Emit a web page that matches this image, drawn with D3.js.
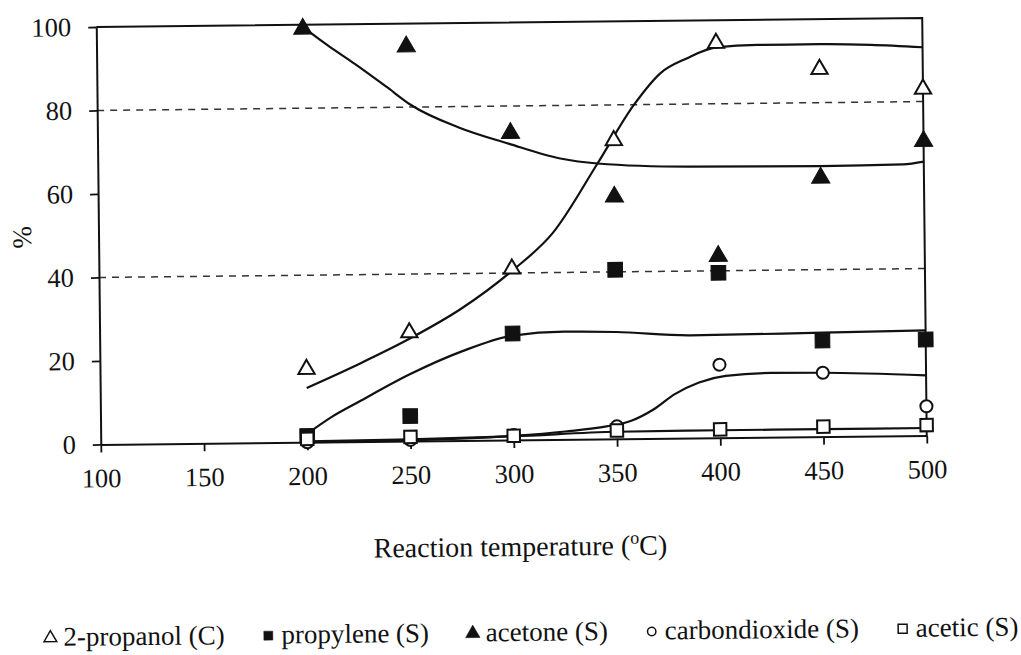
<!DOCTYPE html>
<html>
<head>
<meta charset="utf-8">
<script src="https://cdn.jsdelivr.net/npm/d3@7"></script>
<style>
  html, body { margin: 0; padding: 0; background: #ffffff; }
  svg { display: block; }
  text { font-family: "Liberation Serif", "Times New Roman", serif; fill: #111; }
</style>
</head>
<body>
<svg id="chart" width="1021" height="655"></svg>
<script>
// Reaction temperatures (°C) where samples were taken
const temps = [200, 250, 300, 350, 400, 450, 500];

// Measured values (%)
const propanol  = [17.5, 26, 41, 71.5, 94.5, 88, 83];     // 2-propanol conversion
const propylene = [1.5, 6, 25.5, 40.5, 39.5, 23, 23];     // propylene selectivity
const acetone   = [99, 94.5, 73.5, 58, 43.5, 62, 70.5];   // acetone selectivity
const co2       = [0, 0.3, 1.2, 3, 17.5, 15.3, 7];        // carbon dioxide selectivity
const acetic    = [0.8, 1, 1, 2, 2, 2.4, 2.5];            // acetic selectivity

// Smoothed trend curves, [temperature, %]
const propanolFit  = [[200,13],[225,18.5],[250,24.5],[275,31.5],[300,40.5],[320,49.5],[342,66],[360,80],[373,87.5],[386,91],[400,93.5],[420,94],[450,94],[475,93.7],[500,93]];
const acetoneFit   = [[200,99.5],[212,95],[225,90.5],[240,85],[252,80.5],[275,75],[299,71],[324,67.3],[342,66],[386,65],[450,64.8],[490,65],[500,65.6]];
const propyleneFit = [[200,2],[212,6],[225,9.5],[250,16],[275,21.3],[300,25],[325,25.8],[350,25.6],[386,24.6],[450,24.9],[500,25.2]];
const co2Fit       = [[200,0],[250,0.2],[300,1],[325,1.9],[345,3],[357,4.3],[368,7],[378,10.5],[390,13.3],[403,14.8],[425,15.4],[450,15.3],[500,14.4]];
const aceticFit    = [[200,0.2],[250,0.4],[300,0.9],[350,1.7],[400,1.8],[450,1.8],[500,1.8]];

// Axis ticks and labels
const xTicks = [100, 150, 200, 250, 300, 350, 400, 450, 500];
const yTicks = [0, 20, 40, 60, 80, 100];
const gridValues = [40, 80];
const xTitle = "Reaction temperature (";
const yTitle = "%";
const legendLabels = ["2-propanol (C)", "propylene (S)", "acetone (S)", "carbondioxide (S)", "acetic (S)"];

const W = 1021, H = 655;
const plotLeft = 98.5, plotRight = 924.5, plotTop = 22.5, plotBottom = 440;

const svg = d3.select("#chart");
svg.append("rect").attr("width", W).attr("height", H).attr("fill", "#ffffff");

// whole figure sits at a slight tilt
const g = svg.append("g").attr("transform", "rotate(-0.62,511,231)");

const x = d3.scaleLinear().domain([100, 500]).range([plotLeft, plotRight]);
const y = d3.scaleLinear().domain([0, 100]).range([plotBottom, plotTop]);

// dashed gridlines
g.selectAll("line.grid").data(gridValues).join("line")
  .attr("class", "grid")
  .attr("x1", plotLeft).attr("x2", plotRight)
  .attr("y1", d => y(d)).attr("y2", d => y(d))
  .attr("stroke", "#333").attr("stroke-width", 1.5)
  .attr("stroke-dasharray", "7,6");

// plot frame (top and right)
g.append("path")
  .attr("d", `M${plotLeft},${y(100)}H${plotRight}V${y(0)}`)
  .attr("fill", "none").attr("stroke", "#111").attr("stroke-width", 2);

// axes
const yAxis = g.append("g").attr("transform", `translate(${plotLeft},0)`)
  .call(d3.axisLeft(y).tickValues(yTicks).tickSize(8).tickSizeOuter(0).tickPadding(17));
const xAxis = g.append("g").attr("transform", `translate(0,${plotBottom})`)
  .call(d3.axisBottom(x).tickValues(xTicks).tickSize(8).tickSizeOuter(0).tickPadding(16));
[yAxis, xAxis].forEach(a => {
  a.select(".domain").attr("stroke", "#111").attr("stroke-width", 2);
  a.selectAll(".tick line").attr("stroke", "#111").attr("stroke-width", 1.8);
  a.selectAll(".tick text").attr("font-size", 26.5)
    .attr("font-family", "Liberation Serif, serif").attr("fill", "#111");
});

// trend curves
const line = d3.line().x(d => x(d[0])).y(d => y(d[1])).curve(d3.curveMonotoneX);
[propanolFit, acetoneFit, propyleneFit, co2Fit, aceticFit].forEach(f => {
  g.append("path").attr("d", line(f))
    .attr("fill", "none").attr("stroke", "#111").attr("stroke-width", 2.2);
});

// markers
const seriesDefs = [
  { values: co2,       type: d3.symbolCircle,   size: 115, filled: false },
  { values: propylene, type: d3.symbolSquare,   size: 215, filled: true },
  { values: acetic,    type: d3.symbolSquare,   size: 155, filled: false },
  { values: propanol,  type: d3.symbolTriangle, size: 115, filled: false },
  { values: acetone,   type: d3.symbolTriangle, size: 145, filled: true }
];
seriesDefs.forEach(s => {
  const sym = d3.symbol().type(s.type).size(s.size);
  g.append("g").selectAll("path").data(temps.map((t, i) => [t, s.values[i]])).join("path")
    .attr("transform", d => `translate(${x(d[0])},${y(d[1])})`)
    .attr("d", sym)
    .attr("fill", s.filled ? "#111" : "#fff")
    .attr("stroke", "#111")
    .attr("stroke-width", s.filled ? 1 : 2);
});

// axis titles
const xt = g.append("text")
  .attr("x", 517).attr("y", 556)
  .attr("text-anchor", "middle").attr("font-size", 28);
xt.append("tspan").text(xTitle);
xt.append("tspan").attr("font-size", 18).attr("dy", -11).text("o");
xt.append("tspan").attr("dy", 11).text("C)");

g.append("text")
  .attr("transform", "translate(31,232) rotate(-90)")
  .attr("text-anchor", "middle").attr("font-size", 27)
  .text(yTitle);

// legend
const legendSyms = [
  { type: d3.symbolTriangle, size: 70, filled: false },
  { type: d3.symbolSquare,   size: 80, filled: true },
  { type: d3.symbolTriangle, size: 90, filled: true },
  { type: d3.symbolCircle,   size: 55, filled: false },
  { type: d3.symbolSquare,   size: 80, filled: false }
];
const legend = g.append("g");
const items = legendLabels.map((lab, i) => {
  const it = legend.append("g");
  it.append("path")
    .attr("d", d3.symbol().type(legendSyms[i].type).size(legendSyms[i].size))
    .attr("transform", "translate(8,-8)")
    .attr("fill", legendSyms[i].filled ? "#111" : "#fff")
    .attr("stroke", "#111").attr("stroke-width", legendSyms[i].filled ? 0.5 : 1.5);
  const t = it.append("text").attr("x", 21).attr("y", 0).attr("font-size", 27).text(lab);
  return { it, w: 21 + t.node().getComputedTextLength() };
});
const lx0 = 38, lx1 = 1014;
const totalW = d3.sum(items, d => d.w);
const gap = (lx1 - lx0 - totalW) / (items.length - 1);
let cx = lx0;
items.forEach(d => {
  d.it.attr("transform", `translate(${cx},641)`);
  cx += d.w + gap;
});
</script>
</body>
</html>
